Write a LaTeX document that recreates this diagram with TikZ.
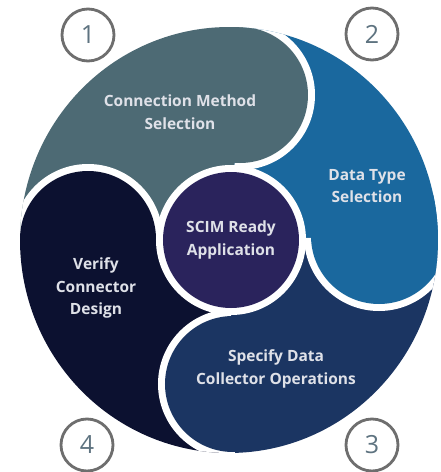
\documentclass[tikz,border=0pt]{standalone}
\usepackage{fontspec}
\setmainfont{Open Sans}
\definecolor{segA}{HTML}{4D6A74}
\definecolor{segB}{HTML}{1A689E}
\definecolor{segC}{HTML}{1B3562}
\definecolor{segD}{HTML}{0C1130}
\definecolor{corefill}{HTML}{2A235C}
\definecolor{txtcol}{HTML}{DFE1E8}
\definecolor{ringcol}{HTML}{6E6E6E}
\definecolor{numcol}{HTML}{5E7380}
\tikzset{
  labeltext/.style={text=txtcol, font=\fontsize{15.5}{22.5}\selectfont\bfseries, align=center, inner sep=0pt},
  numcircle/.style={circle, draw=ringcol, line width=2.8pt, minimum size=52pt, inner sep=0pt, text=numcol, font=\fontsize{25}{25}\selectfont},
  halo/.style={fill=white},
}
\begin{document}
\begin{tikzpicture}[x=1pt,y=1pt]
\useasboundingbox (-229,-232) rectangle (212,240);
\fill[white] (-229,-232) rectangle (212,240);
% bodies
\fill[segA] (0,0) -- (179.6:209 and 213) arc[start angle=179.6, end angle=85.66, x radius=209, y radius=213] -- cycle;
\fill[segB] (0,0) -- (85.66:209 and 213) arc[start angle=85.66, end angle=1.53, x radius=209, y radius=213] -- cycle;
\fill[segC] (0,0) -- (1.53:209 and 213) arc[start angle=1.53, end angle=-88.4, x radius=209, y radius=213] -- cycle;
\fill[segD] (0,0) -- (-88.4:209 and 213) arc[start angle=-88.4, end angle=-180.4, x radius=209, y radius=213] -- cycle;
% lobe 1
\begin{scope}
  \clip (0,0) ellipse [x radius=209, y radius=213];
  \clip (0,0) -- (85.66:400) -- (-4.34:400) -- (-94.34:400) -- cycle;
  \fill[halo] (11,145) circle[radius=75];
\end{scope}
\begin{scope}
  \clip (0,0) ellipse [x radius=209, y radius=213];
  \fill[segA] (11,145) circle[radius=68];
\end{scope}
% lobe 2
\begin{scope}
  \clip (0,0) ellipse [x radius=209, y radius=213];
  \clip (0,0) -- (1.53:400) -- (-88.47:400) -- (-178.47:400) -- cycle;
  \fill[halo] (150,4) circle[radius=75];
\end{scope}
\begin{scope}
  \clip (0,0) ellipse [x radius=209, y radius=213];
  \fill[segB] (150,4) circle[radius=68];
\end{scope}
% lobe 3
\begin{scope}
  \clip (0,0) ellipse [x radius=209, y radius=213];
  \clip (0,0) -- (-88.4:400) -- (-178.4:400) -- (-268.4:400) -- cycle;
  \fill[halo] (4,-144) circle[radius=75];
\end{scope}
\begin{scope}
  \clip (0,0) ellipse [x radius=209, y radius=213];
  \fill[segC] (4,-144) circle[radius=68];
\end{scope}
% lobe 4
\begin{scope}
  \clip (0,0) ellipse [x radius=209, y radius=213];
  \clip (0,0) -- (179.6:400) -- (89.6:400) -- (-0.4:400) -- cycle;
  \fill[halo] (-141,1) circle[radius=75];
\end{scope}
\begin{scope}
  \clip (0,0) ellipse [x radius=209, y radius=213];
  \fill[segD] (-141,1) circle[radius=68];
\end{scope}
% center
\fill[white] (2,0) circle[radius=75];
\node[circle, fill=corefill, minimum size=136pt, labeltext] (core) at (2,0) {SCIM Ready\\Application};
% labels
\node[labeltext] (t1) at (-49,128) {Connection Method\\Selection};
\node[labeltext] (t2) at (138,54) {Data Type\\Selection};
\node[labeltext] (t3) at (47,-129) {Specify Data\\Collector Operations};
\node[labeltext] (t4) at (-133,-48) {Verify\\Connector\\Design};
% numbers
\node[numcircle] (n1) at (-141,205) {1};
\node[numcircle] (n2) at (143,206) {2};
\node[numcircle] (n3) at (143,-205) {3};
\node[numcircle] (n4) at (-142,-205) {4};
\end{tikzpicture}
\end{document}
